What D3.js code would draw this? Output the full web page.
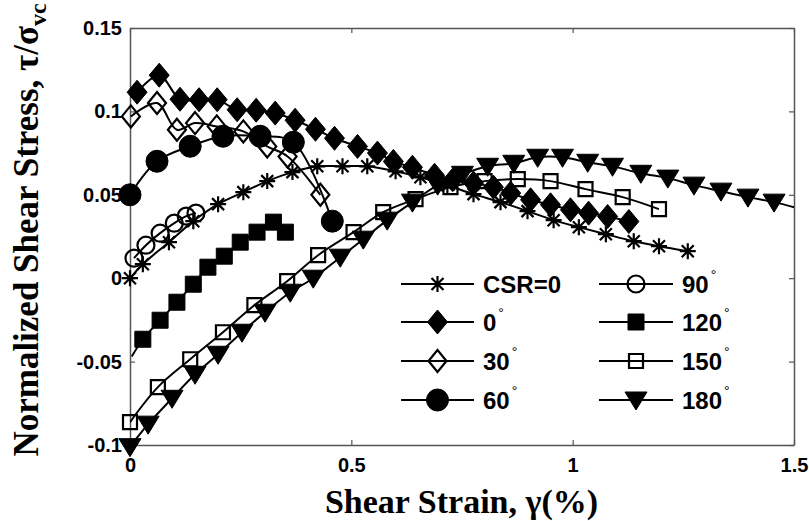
<!DOCTYPE html>
<html>
<head>
<meta charset="utf-8">
<script src="https://cdn.jsdelivr.net/npm/d3@7"></script>
<style>
body { margin: 0; background: #fff; }
svg { display: block; }
</style>
</head>
<body>
<svg></svg>
<script>
// values (shear strain in %, normalized shear stress)
let csr0X = [0, 0.029, 0.088, 0.143, 0.199, 0.256, 0.31, 0.367, 0.423, 0.48, 0.536, 0.6, 0.656, 0.717, 0.776, 0.837, 0.898, 0.957, 1.014, 1.075, 1.138, 1.195, 1.26]
let csr0Y = [0, 0.0084, 0.0216, 0.0342, 0.0444, 0.0516, 0.0582, 0.0636, 0.0671, 0.0671, 0.0671, 0.0641, 0.0605, 0.0557, 0.0504, 0.0456, 0.0402, 0.0348, 0.0306, 0.0264, 0.0222, 0.0192, 0.0162]

let deg0X = [0.016, 0.066, 0.113, 0.156, 0.197, 0.242, 0.285, 0.328, 0.373, 0.419, 0.462, 0.514, 0.559, 0.595, 0.638, 0.688, 0.731, 0.776, 0.821, 0.86, 0.905, 0.95, 0.995, 1.036, 1.079, 1.127]
let deg0Y = [0.1115, 0.1217, 0.1073, 0.107, 0.107, 0.101, 0.1007, 0.099, 0.0947, 0.0893, 0.0839, 0.079, 0.075, 0.070, 0.0665, 0.0617, 0.0594, 0.057, 0.0546, 0.051, 0.047, 0.044, 0.041, 0.039, 0.037, 0.034]

let deg30X = [0.002, 0.061, 0.106, 0.147, 0.196, 0.256, 0.31, 0.356, 0.43]
let deg30Y = [0.097, 0.105, 0.089, 0.093, 0.091, 0.088, 0.079, 0.073, 0.050]

let deg60X = [0, 0.061, 0.136, 0.21, 0.294, 0.369, 0.457]
let deg60Y = [0.05, 0.0701, 0.0791, 0.0851, 0.0851, 0.0815, 0.0342]

let deg90X = [0.009, 0.036, 0.068, 0.1, 0.127, 0.149]
let deg90Y = [0.012, 0.0198, 0.027, 0.033, 0.0372, 0.039]

// first point of 120 has a line but no marker
let deg120X = [0.004, 0.029, 0.068, 0.106, 0.143, 0.176, 0.213, 0.249, 0.287, 0.324, 0.351]
let deg120Y = [-0.047, -0.0366, -0.0252, -0.0144, -0.0036, 0.0066, 0.0132, 0.0216, 0.0276, 0.0336, 0.0276]

let deg150X = [0, 0.063, 0.136, 0.21, 0.281, 0.355, 0.425, 0.505, 0.572, 0.645, 0.724, 0.801, 0.876, 0.95, 1.029, 1.113, 1.195]
let deg150Y = [-0.0863, -0.0653, -0.0486, -0.0324, -0.0162, -0.0018, 0.0138, 0.0276, 0.0396, 0.0474, 0.0546, 0.0582, 0.0594, 0.0582, 0.0534, 0.0486, 0.0414]

let deg180X = [0, 0.041, 0.095, 0.147, 0.199, 0.253, 0.305, 0.362, 0.414, 0.475, 0.527, 0.581, 0.638, 0.695, 0.751, 0.808, 0.867, 0.921, 0.977, 1.034, 1.09, 1.154, 1.215, 1.274, 1.335, 1.396, 1.455, 1.516]
let deg180Y = [-0.101, -0.0875, -0.072, -0.0576, -0.0456, -0.0324, -0.0204, -0.0084, 0.0, 0.0126, 0.0234, 0.0348, 0.0456, 0.0558, 0.0623, 0.0671, 0.0689, 0.0725, 0.0725, 0.0695, 0.0671, 0.0629, 0.060, 0.0558, 0.0522, 0.0486, 0.0456, 0.0414]

let legendNames = ['CSR=0', '0', '30', '60', '90', '120', '150', '180']

let xTicks = [0, 0.5, 1, 1.5]
let xTickLabels = ['0', '0.5', '1', '1.5']
let yTicks = [-0.1, -0.05, 0, 0.05, 0.1, 0.15]
let yTickLabels = ['-0.1', '-0.05', '0', '0.05', '0.1', '0.15']

let width = 809
let height = 521
let plotL = 130, plotR = 794, plotT = 28, plotB = 445

let svg = d3.select('svg').attr('width', width).attr('height', height)

let xScale = d3.scaleLinear().domain([0, 1.5]).range([plotL, plotR])
let yScale = d3.scaleLinear().domain([-0.1, 0.15]).range([plotB, plotT])

// marker shapes
let markers = {
    star: { d: 'M0,-8V8M-8,0H8M-6,-6L6,6M-6,6L6,-6', fill: 'none' },
    dfill: { d: 'M0,-12L10,0L0,12L-10,0Z', fill: '#000' },
    dopen: { d: 'M0,-11L9,0L0,11L-9,0Z', fill: 'none' },
    cfill: { d: 'M11,0A11,11 0 1,1 -11,0A11,11 0 1,1 11,0Z', fill: '#000' },
    copen: { d: 'M8.5,0A8.5,8.5 0 1,1 -8.5,0A8.5,8.5 0 1,1 8.5,0Z', fill: 'none' },
    sfill: { d: 'M-8,-8H8V8H-8Z', fill: '#000' },
    sopen: { d: 'M-7,-7H7V7H-7Z', fill: 'none' },
    tri: { d: 'M-11,-8H11L0,10Z', fill: '#000' }
}

let series = [
    { name: legendNames[0], x: csr0X, y: csr0Y, m: 'star', skip: 0 },
    { name: legendNames[1], x: deg0X, y: deg0Y, m: 'dfill', skip: 0 },
    { name: legendNames[2], x: deg30X, y: deg30Y, m: 'dopen', skip: 0 },
    { name: legendNames[3], x: deg60X, y: deg60Y, m: 'cfill', skip: 0 },
    { name: legendNames[4], x: deg90X, y: deg90Y, m: 'copen', skip: 0 },
    { name: legendNames[5], x: deg120X, y: deg120Y, m: 'sfill', skip: 1 },
    { name: legendNames[6], x: deg150X, y: deg150Y, m: 'sopen', skip: 0 },
    { name: legendNames[7], x: deg180X, y: deg180Y, m: 'tri', skip: 0 }
]

svg.append('clipPath').attr('id', 'plotclip')
    .append('rect').attr('x', plotL).attr('y', plotT).attr('width', plotR - plotL).attr('height', plotB - plotT)

let drawAxes = () => {
    let axisColor = '#555'
    let style = g => {
        g.select('.domain').attr('stroke', axisColor).attr('stroke-width', 1.5)
        g.selectAll('.tick line').attr('stroke', axisColor).attr('stroke-width', 1.2)
        g.selectAll('.tick text')
            .attr('fill', '#000')
            .attr('font-family', 'Liberation Sans, Arial, sans-serif')
            .attr('font-weight', 'bold')
            .attr('font-size', 20)
    }
    svg.append('g')
        .attr('transform', 'translate(0,' + plotB + ')')
        .call(d3.axisBottom(xScale).tickValues(xTicks).tickFormat((d, i) => xTickLabels[i]).tickSizeInner(-5).tickSizeOuter(0).tickPadding(13))
        .call(style)
    svg.append('g')
        .attr('transform', 'translate(0,' + plotT + ')')
        .call(d3.axisTop(xScale).tickValues(xTicks).tickFormat('').tickSizeInner(-5).tickSizeOuter(0))
        .call(style)
    svg.append('g')
        .attr('transform', 'translate(' + plotL + ',0)')
        .call(d3.axisLeft(yScale).tickValues(yTicks).tickFormat((d, i) => yTickLabels[i]).tickSizeInner(-5).tickSizeOuter(0).tickPadding(8))
        .call(style)
    svg.append('g')
        .attr('transform', 'translate(' + plotR + ',0)')
        .call(d3.axisRight(yScale).tickValues(yTicks).tickFormat('').tickSizeInner(-5).tickSizeOuter(0))
        .call(style)
}

let drawSeries = () => {
    let line = d3.line()
        .x(d => xScale(d[0]))
        .y(d => yScale(d[1]))
        .curve(d3.curveCatmullRom.alpha(0.5))

    series.forEach(s => {
        let pts = s.x.map((v, i) => [v, s.y[i]])
        let g = svg.append('g')
        g.append('path')
            .attr('d', line(pts))
            .attr('fill', 'none')
            .attr('stroke', '#000')
            .attr('stroke-width', 2)
            .attr('clip-path', 'url(#plotclip)')
        let mk = markers[s.m]
        g.selectAll('path.mk')
            .data(pts.filter((p, i) => i >= s.skip && p[0] <= 1.5))
            .enter()
            .append('path')
            .attr('class', 'mk')
            .attr('d', mk.d)
            .attr('transform', d => 'translate(' + xScale(d[0]) + ',' + yScale(d[1]) + ')')
            .attr('fill', mk.fill)
            .attr('stroke', '#000')
            .attr('stroke-width', mk.fill === 'none' ? 2.2 : 1)
    })
}

let drawLegend = () => {
    let cols = [{ x1: 401, x2: 474, tx: 483 }, { x1: 599, x2: 673, tx: 682 }]
    let rows = [284, 322, 361, 400]
    series.forEach((s, i) => {
        let c = cols[Math.floor(i / 4)]
        let ry = rows[i % 4]
        let g = svg.append('g')
        g.append('line')
            .attr('x1', c.x1).attr('x2', c.x2).attr('y1', ry).attr('y2', ry)
            .attr('stroke', '#000').attr('stroke-width', 2)
        let mk = markers[s.m]
        g.append('path')
            .attr('d', mk.d)
            .attr('transform', 'translate(' + (c.x1 + c.x2) / 2 + ',' + ry + ')')
            .attr('fill', mk.fill)
            .attr('stroke', '#000')
            .attr('stroke-width', mk.fill === 'none' ? 2.2 : 1)
        let t = g.append('text')
            .attr('x', c.tx).attr('y', ry + 9)
            .attr('font-family', 'Liberation Sans, Arial, sans-serif')
            .attr('font-weight', 'bold')
            .attr('font-size', 24)
            .text(s.name)
        if (i > 0) {
            t.append('tspan').attr('dx', 2).attr('dy', -13)
                .attr('font-size', 14).attr('font-weight', 'normal').text('°')
        }
    })
}

let drawLabels = () => {
    svg.append('text')
        .attr('x', (323 + 600) / 2).attr('y', 513)
        .attr('text-anchor', 'middle')
        .attr('font-family', 'Liberation Serif, Times New Roman, serif')
        .attr('font-weight', 'bold')
        .attr('font-size', 34)
        .text('Shear Strain, γ(%)')

    let yl = svg.append('text')
        .attr('transform', 'translate(38,230) rotate(-90)')
        .attr('text-anchor', 'middle')
        .attr('font-family', 'Liberation Serif, Times New Roman, serif')
        .attr('font-weight', 'bold')
        .attr('font-size', 35)
    yl.append('tspan').text('Normalized Shear Stress, τ/σ')
    yl.append('tspan').attr('font-size', 24).attr('dy', 8).text('vc')
}

drawAxes()
drawSeries()
drawLegend()
drawLabels()
</script>
</body>
</html>
